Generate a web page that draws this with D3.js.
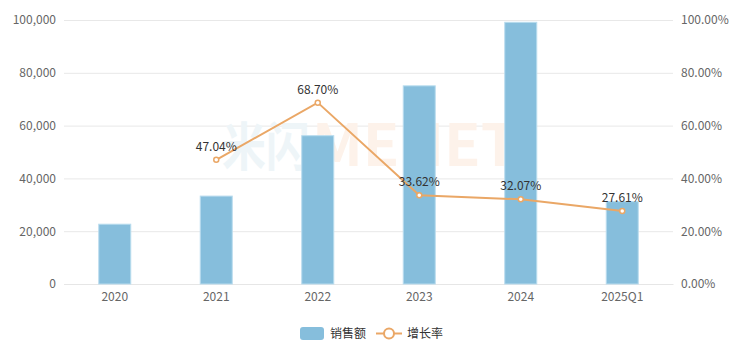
<!DOCTYPE html>
<html>
<head>
<meta charset="utf-8">
<script src="https://cdn.jsdelivr.net/npm/d3@7"></script>
<style>
  body { margin: 0; background: #fff; }
  text { font-family: "Noto Sans CJK SC", "Noto Sans", sans-serif; }
</style>
</head>
<body>
<div id="chart"></div>
<script>
// data
var years = ["2020", "2021", "2022", "2023", "2024", "2025Q1"];
var sales = [22650, 33300, 56180, 75060, 99130, 31200];
var growth = [null, 47.04, 68.70, 33.62, 32.07, 27.61];
var salesTicks = [0, 20000, 40000, 60000, 80000, 100000];
var rateTicks = [0, 20, 40, 60, 80, 100];

var width = 748, height = 354;
var margin = {top: 20, right: 75, bottom: 70, left: 64};

var svg = d3.select("#chart").append("svg")
    .attr("width", width)
    .attr("height", height);

var x = d3.scaleBand()
    .domain(years)
    .range([margin.left, width - margin.right]);

var y = d3.scaleLinear()
    .domain([0, 100000])
    .range([height - margin.bottom, margin.top]);

var y2 = d3.scaleLinear()
    .domain([0, 100])
    .range([height - margin.bottom, margin.top]);

// grid lines
svg.append("g")
  .selectAll("line")
  .data(salesTicks)
  .enter().append("line")
    .attr("x1", margin.left)
    .attr("x2", width - margin.right)
    .attr("y1", function(d) { return y(d) + 0.5; })
    .attr("y2", function(d) { return y(d) + 0.5; })
    .style("stroke", "#e8e8e8");

// left axis
var leftAxis = d3.axisLeft(y)
    .tickValues(salesTicks)
    .tickSize(0)
    .tickPadding(8)
    .tickFormat(d3.format(","));
var gl = svg.append("g")
    .attr("transform", "translate(" + margin.left + ",0)")
    .call(leftAxis);
gl.select(".domain").remove();
gl.selectAll("text").style("fill", "#666").style("font-size", "12px");

// right axis
var rightAxis = d3.axisRight(y2)
    .tickValues(rateTicks)
    .tickSize(0)
    .tickPadding(8)
    .tickFormat(function(d) { return d.toFixed(2) + "%"; });
var gr = svg.append("g")
    .attr("transform", "translate(" + (width - margin.right) + ",0)")
    .call(rightAxis);
gr.select(".domain").remove();
gr.selectAll("text").style("fill", "#666").style("font-size", "12px");

// bottom axis
var bottomAxis = d3.axisBottom(x).tickSize(0).tickPadding(8);
var gb = svg.append("g")
    .attr("transform", "translate(0," + (height - margin.bottom) + ")")
    .call(bottomAxis);
gb.select(".domain").style("stroke", "#e6e6e6");
gb.selectAll("text").style("fill", "#666").style("font-size", "12px");

// watermark (very faint, behind the bars)
svg.append("text")
    .attr("x", 222).attr("y", 166)
    .attr("textLength", 88)
    .attr("lengthAdjust", "spacingAndGlyphs")
    .style("font-size", "52px")
    .style("font-weight", "bold")
    .style("fill", "#eef5f8")
    .text("米闪");
svg.append("text")
    .attr("x", 312).attr("y", 166)
    .attr("textLength", 206)
    .attr("lengthAdjust", "spacingAndGlyphs")
    .style("font-size", "58px")
    .style("font-weight", "bold")
    .style("fill", "#fdf2ea")
    .text("MENET");

// bars
var barW = 32;
svg.selectAll(".bar")
    .data(sales)
  .enter().append("rect")
    .attr("class", "bar")
    .attr("x", function(d, i) { return x(years[i]) + x.bandwidth() / 2 - barW / 2; })
    .attr("y", function(d) { return y(d); })
    .attr("width", barW)
    .attr("height", function(d) { return y(0) - y(d); })
    .style("fill", "#86bedc")
    .style("stroke", "#b9dcee")
    .style("stroke-width", 1);

// growth line
var pts = growth.map(function(d, i) { return {year: years[i], v: d}; })
    .filter(function(d) { return d.v !== null; });

var line = d3.line()
    .x(function(d) { return x(d.year) + x.bandwidth() / 2; })
    .y(function(d) { return y2(d.v); });

svg.append("path")
    .datum(pts)
    .attr("d", line)
    .style("fill", "none")
    .style("stroke", "#eaa766")
    .style("stroke-width", 2);

svg.selectAll(".dot")
    .data(pts)
  .enter().append("circle")
    .attr("class", "dot")
    .attr("cx", function(d) { return x(d.year) + x.bandwidth() / 2; })
    .attr("cy", function(d) { return y2(d.v); })
    .attr("r", 2.5)
    .style("fill", "#fff")
    .style("stroke", "#eaa766")
    .style("stroke-width", 1.5);

svg.selectAll(".lbl")
    .data(pts)
  .enter().append("text")
    .attr("class", "lbl")
    .attr("x", function(d) { return x(d.year) + x.bandwidth() / 2; })
    .attr("y", function(d) { return y2(d.v) - 9; })
    .attr("text-anchor", "middle")
    .style("fill", "#333")
    .style("font-size", "12px")
    .text(function(d) { return d.v.toFixed(2) + "%"; });

// legend
var lg = svg.append("g").attr("transform", "translate(300,333)");
lg.append("rect")
    .attr("x", 0).attr("y", -6)
    .attr("width", 24).attr("height", 13)
    .attr("rx", 3)
    .style("fill", "#86bedc");
lg.append("text")
    .attr("x", 30).attr("y", 5)
    .style("font-size", "12px").style("fill", "#333")
    .text("销售额");
lg.append("line")
    .attr("x1", 76).attr("x2", 102)
    .attr("y1", 0.5).attr("y2", 0.5)
    .style("stroke", "#eaa766").style("stroke-width", 2);
lg.append("circle")
    .attr("cx", 89).attr("cy", 0.5).attr("r", 5)
    .style("fill", "#fff").style("stroke", "#eaa766").style("stroke-width", 2);
lg.append("text")
    .attr("x", 107).attr("y", 5)
    .style("font-size", "12px").style("fill", "#333")
    .text("增长率");
</script>
</body>
</html>
